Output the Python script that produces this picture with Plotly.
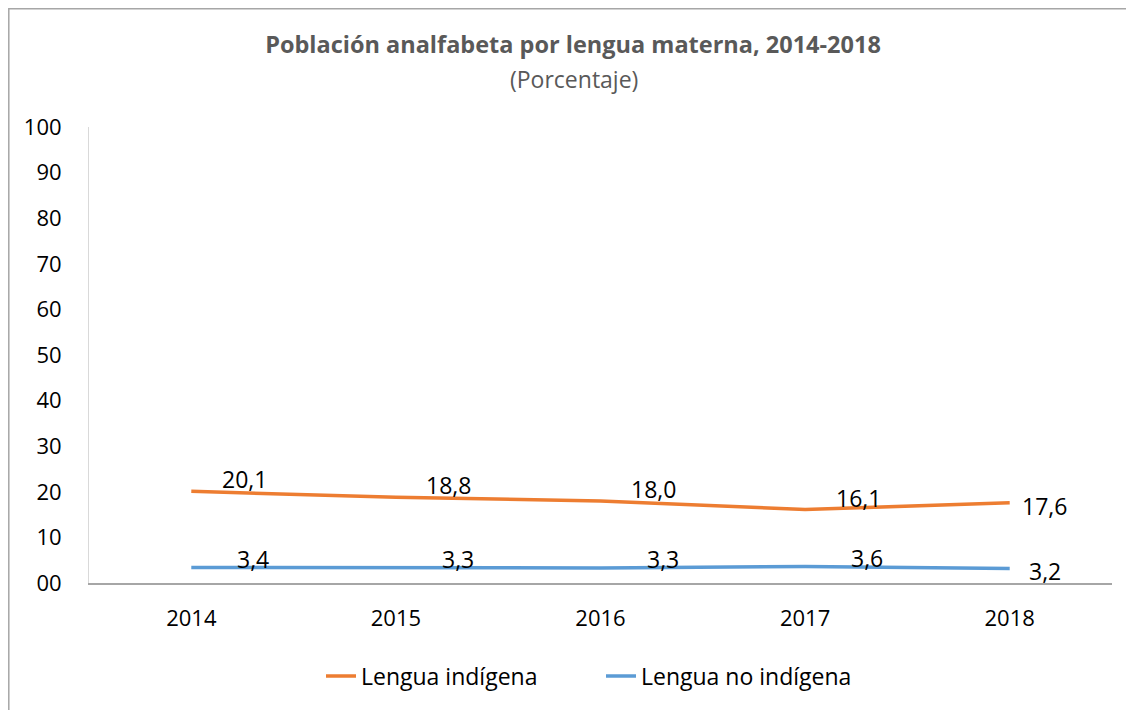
import plotly.graph_objects as go

years = ["2014", "2015", "2016", "2017", "2018"]
indigena = [20.1, 18.8, 18.0, 16.1, 17.6]
no_indigena = [3.4, 3.3, 3.3, 3.6, 3.2]
series_names = ["Lengua indígena", "Lengua no indígena"]
y_ticks = [0, 10, 20, 30, 40, 50, 60, 70, 80, 90, 100]
y_ticktext = ["00", "10", "20", "30", "40", "50", "60", "70", "80", "90", "100"]
title_text = "Población analfabeta por lengua materna, 2014-2018"
subtitle_text = "(Porcentaje)"

FONT = "Open Sans"
W, H = 1134, 710
OFF = 7  # page offset of the figure inside the browser
# plot area in page coordinates
PL, PR, PT, PB = 88, 1111, 126, 582
L, T = PL - OFF, PT - OFF
R = W - (PR - OFF)
B = H - (PB - OFF)
pw = PR - PL
ph = PB - PT

def px(x):
    return (x - PL) / pw

def py(y):
    return (PB - y) / ph

fig = go.Figure()
fig.add_trace(go.Scatter(x=years, y=indigena, mode="lines", name=series_names[0],
                         line=dict(color="#ED7D31", width=3.5)))
fig.add_trace(go.Scatter(x=years, y=no_indigena, mode="lines", name=series_names[1],
                         line=dict(color="#5B9BD5", width=3.5)))

def fmt(v):
    return f"{v:.1f}".replace(".", ",")

for vals, (dx, dy) in ((indigena, (53, 12)), (no_indigena, (62, 9))):
    n = len(vals)
    for i, v in enumerate(vals):
        last = i == n - 1
        fig.add_annotation(xref="x", yref="y", x=i, y=v, text=fmt(v), showarrow=False,
                           xshift=35 if last else dx, yshift=-3 if last else dy,
                           font=dict(family=FONT, size=23, color="#000000"))

# subtitle
fig.add_annotation(xref="paper", yref="paper", x=px(573), y=py(78), text=subtitle_text,
                   showarrow=False, xanchor="center", yanchor="middle",
                   font=dict(family=FONT, size=23, color="#595959"))

# chart frame
fig.add_shape(type="rect", xref="paper", yref="paper",
              x0=px(OFF + 0.8), x1=px(1131), y0=py(720), y1=py(OFF + 0.8),
              line=dict(color="#a6a6a6", width=1.5), fillcolor="rgba(0,0,0,0)", layer="below")

fig.update_layout(
    width=W, height=H,
    margin=dict(l=L, r=R, t=T, b=B),
    paper_bgcolor="white", plot_bgcolor="white",
    font=dict(family=FONT, size=23, color="#000000"),
    title=dict(text="<b>" + title_text + "</b>",
               x=px(572), xref="paper", xanchor="center", y=1 - (44 - OFF) / H, yanchor="middle",
               font=dict(family=FONT, size=23.5, color="#595959")),
    showlegend=True,
    legend=dict(orientation="h", x=px(320), xanchor="left", y=py(675), yanchor="middle",
                font=dict(family=FONT, size=23, color="#000000"),
                entrywidth=235, itemwidth=30,
                bgcolor="rgba(0,0,0,0)"),
    xaxis=dict(type="category", range=[-0.5, 4.5], showgrid=False, showline=True,
               linecolor="#a6a6a6", linewidth=1.5, ticks="", ticklabelstandoff=15,
               tickfont=dict(family=FONT, size=22, color="#000000"), zeroline=False),
    yaxis=dict(range=[0, 100], tickvals=y_ticks, ticktext=y_ticktext, showgrid=False,
               showline=True, linecolor="#d9d9d9", linewidth=1, ticks="", ticklabelstandoff=22,
               tickfont=dict(family=FONT, size=22, color="#000000"), zeroline=False),
)

fig.write_html("out.html")
